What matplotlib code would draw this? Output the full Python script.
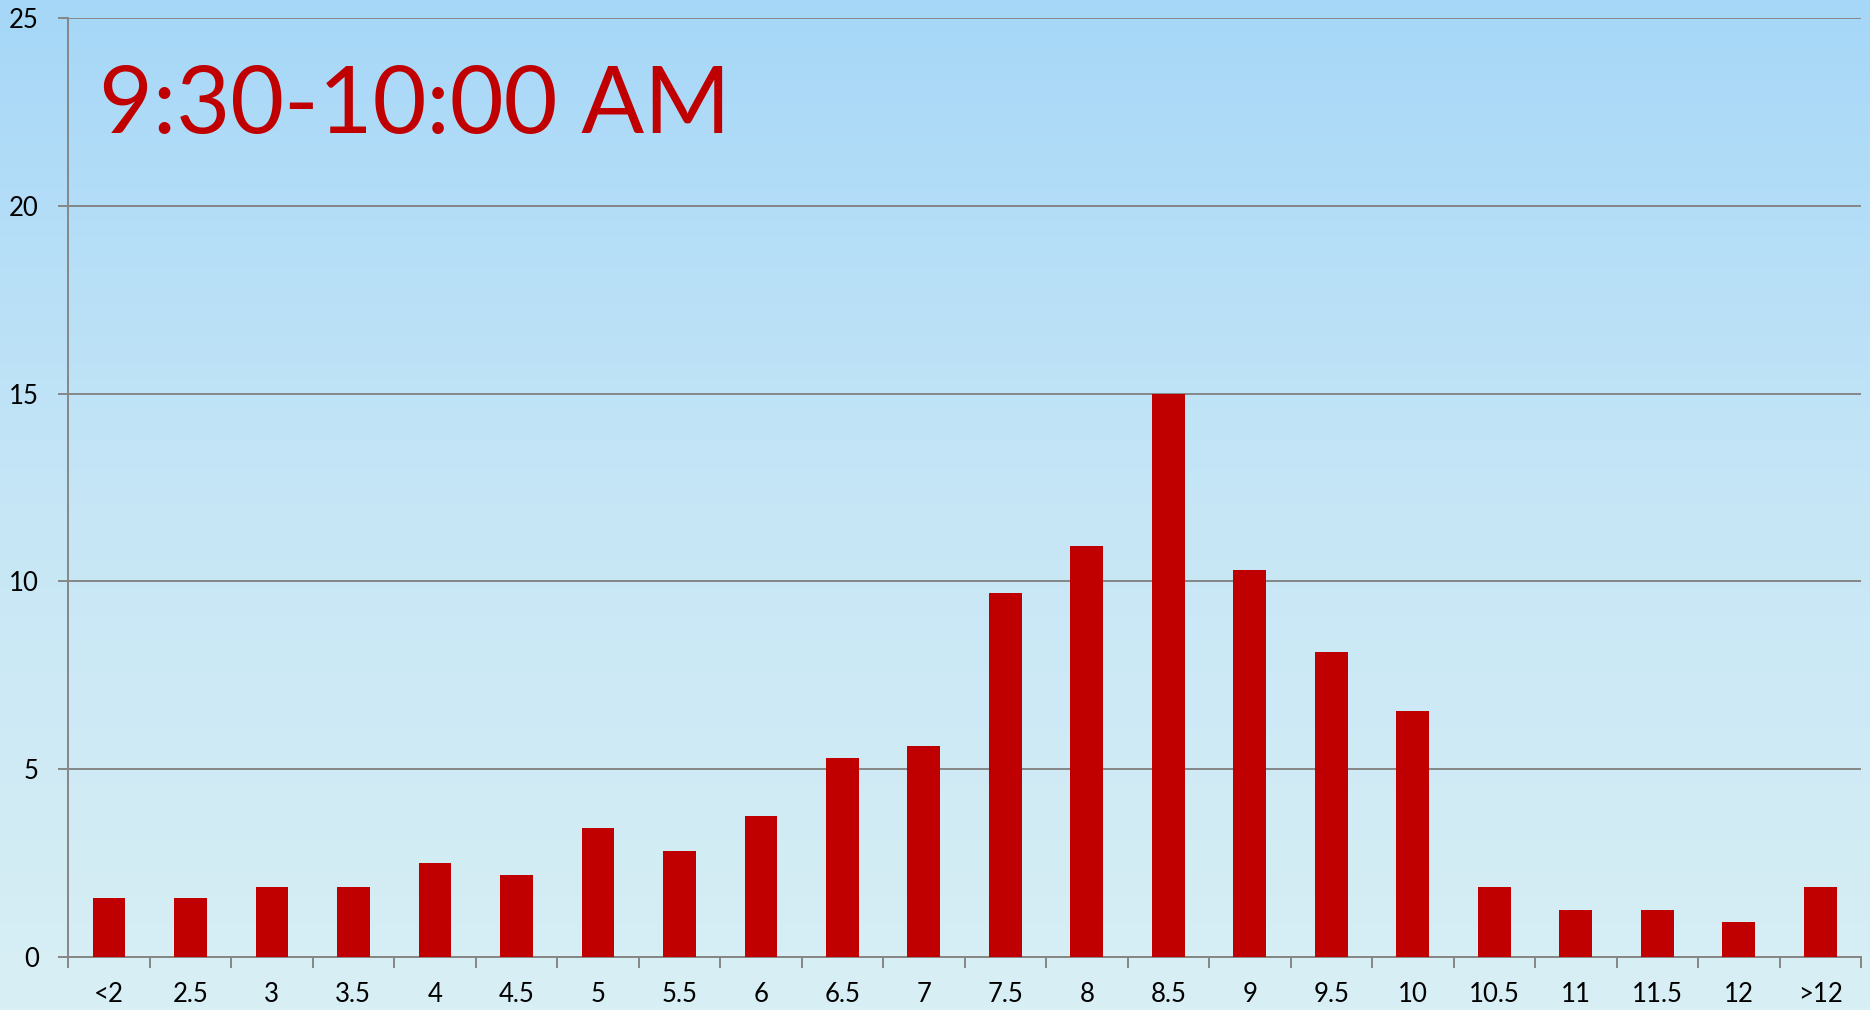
import numpy as np
import matplotlib.pyplot as plt
from matplotlib.colors import LinearSegmentedColormap

# share of readings per bin (percent)
bins = ['<2', '2.5', '3', '3.5', '4', '4.5', '5', '5.5', '6', '6.5', '7',
        '7.5', '8', '8.5', '9', '9.5', '10', '10.5', '11', '11.5', '12', '>12']
share = [1.56, 1.56, 1.87, 1.87, 2.50, 2.19, 3.44, 2.81, 3.75, 5.31, 5.63,
         9.69, 10.94, 15.00, 10.31, 8.13, 6.56, 1.87, 1.25, 1.25, 0.94, 1.87]
y_ticks = [0, 5, 10, 15, 20, 25]
title = '9:30-10:00 AM'

plt.rcParams['font.family'] = ['Lato', 'DejaVu Sans']
grey = '#868686'

fig = plt.figure(figsize=(18.7, 10.1), dpi=100)

# sky gradient behind everything
bg = fig.add_axes([0, 0, 1, 1], zorder=-10)
sky = LinearSegmentedColormap.from_list('sky', ['#a6d7f8', '#c6e6f6', '#d8eff4'])
grad = np.linspace(0, 1, 256).reshape(-1, 1)
bg.imshow(grad, aspect='auto', cmap=sky, extent=[0, 1, 0, 1], origin='upper')
bg.axis('off')

ax = fig.add_axes([0.0364, 0.0525, 0.9588, 0.9297])
ax.patch.set_alpha(0)

x = np.arange(len(bins))
ax.bar(x, share, width=0.4, color='#c00000', zorder=3)

ax.set_xlim(-0.5, len(bins) - 0.5)
ax.set_ylim(0, 25)
ax.set_yticks(y_ticks)
ax.set_xticks(x)
ax.set_xticklabels(bins)
ax.set_xticks(np.arange(-0.5, len(bins)), minor=True)

ax.grid(axis='y', color=grey, linewidth=1.4, zorder=1)
for s in ['top', 'right']:
    ax.spines[s].set_visible(False)
for s in ['left', 'bottom']:
    ax.spines[s].set_color(grey)
    ax.spines[s].set_linewidth(1.4)

ax.tick_params(axis='x', which='major', length=0, pad=18, labelsize=18.5)
ax.tick_params(axis='x', which='minor', length=8, width=1.4, color=grey)
ax.tick_params(axis='y', length=7, width=1.4, color=grey, pad=14, labelsize=18.5)

ax.text(0.0175, 0.905, title, transform=ax.transAxes, color='#c00000',
        fontsize=67, ha='left', va='center')

fig.savefig('out.png', dpi=100)
